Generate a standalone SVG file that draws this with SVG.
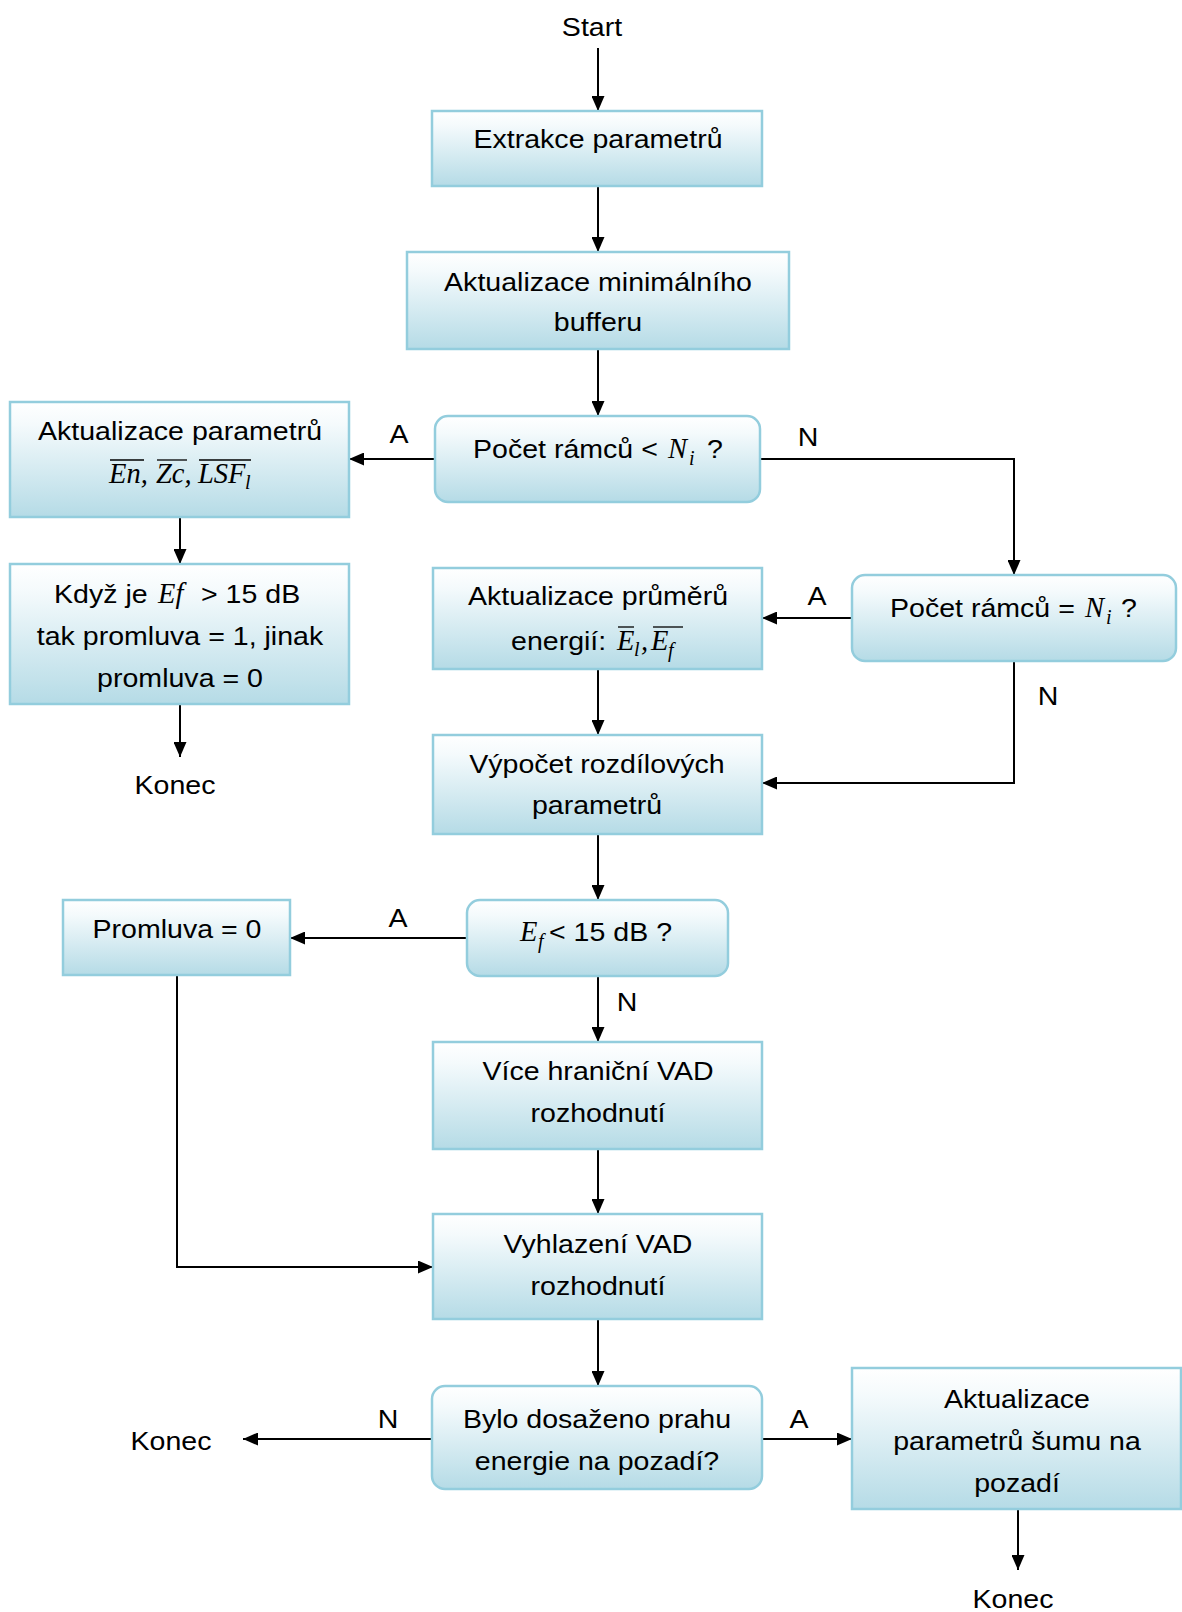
<svg xmlns="http://www.w3.org/2000/svg" width="1182" height="1612" viewBox="0 0 1182 1612">
<style>
.box{fill:url(#g);stroke:#93cddd;stroke-width:2.5}
.t{font-family:"Liberation Sans",Arial,sans-serif;font-size:25.5px;fill:#000;text-anchor:middle}
.s{font-family:"Liberation Sans",Arial,sans-serif;font-size:25.5px;fill:#000;text-anchor:start}
.m{font-family:"Liberation Serif","Times New Roman",serif;font-style:italic;font-size:28.5px;fill:#000}
.sub{font-family:"Liberation Serif","Times New Roman",serif;font-style:italic;font-size:20px;fill:#000}
.ol{stroke:#000;stroke-width:1.3}
.c{fill:none;stroke:#000;stroke-width:2}
</style>
<defs>
<linearGradient id="g" x1="0" y1="0" x2="0" y2="1">
<stop offset="0" stop-color="#ffffff"/>
<stop offset="0.2" stop-color="#f4fafc"/>
<stop offset="1" stop-color="#b5dbe6"/>
</linearGradient>
<marker id="a" markerUnits="userSpaceOnUse" markerWidth="15" markerHeight="13" refX="15" refY="6.5" orient="auto">
<path d="M0,0 L15,6.5 L0,13 z" fill="#000"/>
</marker>
</defs>
<rect width="1182" height="1612" fill="#fff"/>

<g id="connectors">
<path class="c" d="M598,48 V111" marker-end="url(#a)"/>
<path class="c" d="M598,186 V252" marker-end="url(#a)"/>
<path class="c" d="M598,349 V416" marker-end="url(#a)"/>
<path class="c" d="M435,459 H349" marker-end="url(#a)"/>
<path class="c" d="M760,459 H1014 V575" marker-end="url(#a)"/>
<path class="c" d="M852,618 H762" marker-end="url(#a)"/>
<path class="c" d="M1014,661 V783 H762" marker-end="url(#a)"/>
<path class="c" d="M598,669 V735" marker-end="url(#a)"/>
<path class="c" d="M598,834 V900" marker-end="url(#a)"/>
<path class="c" d="M467,938 H290" marker-end="url(#a)"/>
<path class="c" d="M598,976 V1042" marker-end="url(#a)"/>
<path class="c" d="M598,1149 V1214" marker-end="url(#a)"/>
<path class="c" d="M177,975 V1267 H433" marker-end="url(#a)"/>
<path class="c" d="M598,1319 V1386" marker-end="url(#a)"/>
<path class="c" d="M432,1439 H243" marker-end="url(#a)"/>
<path class="c" d="M762,1439 H852" marker-end="url(#a)"/>
<path class="c" d="M1018,1509 V1570" marker-end="url(#a)"/>
<path class="c" d="M180,517 V564" marker-end="url(#a)"/>
<path class="c" d="M180,704 V757" marker-end="url(#a)"/>
<text class="t" transform="translate(399 443) scale(1.12 1)">A</text>
<text class="t" transform="translate(808 446) scale(1.12 1)">N</text>
<text class="t" transform="translate(817 605) scale(1.12 1)">A</text>
<text class="t" transform="translate(1048 705) scale(1.12 1)">N</text>
<text class="t" transform="translate(398 927) scale(1.12 1)">A</text>
<text class="t" transform="translate(627 1011) scale(1.12 1)">N</text>
<text class="t" transform="translate(388 1428) scale(1.12 1)">N</text>
<text class="t" transform="translate(799 1428) scale(1.12 1)">A</text>
</g>

<g id="start"><text class="t" transform="translate(592 36) scale(1.12 1)">Start</text></g>

<g id="extrakce">
<rect class="box" x="432" y="111" width="330" height="75"/>
<text class="t" transform="translate(598 148) scale(1.12 1)">Extrakce parametrů</text>
</g>

<g id="buffer">
<rect class="box" x="407" y="252" width="382" height="97"/>
<text class="t" transform="translate(598 291) scale(1.12 1)">Aktualizace minimálního</text>
<text class="t" transform="translate(598 331) scale(1.12 1)">bufferu</text>
</g>

<g id="dec1">
<rect class="box" x="435" y="416" width="325" height="86" rx="13"/>
<text class="s" transform="translate(473 458) scale(1.12 1)">Počet rámců &lt;</text>
<text class="m" x="668" y="458">N</text>
<text class="sub" x="689" y="465">i</text>
<text class="s" transform="translate(707 458) scale(1.12 1)">?</text>
</g>

<g id="left1">
<rect class="box" x="10" y="402" width="339" height="115"/>
<text class="t" transform="translate(180 440) scale(1.12 1)">Aktualizace parametrů</text>
<text class="m" x="109" y="483">En,</text>
<text class="m" x="156" y="483">Zc,</text>
<text class="m" x="198" y="483">LSF</text>
<text class="sub" x="245" y="489">l</text>
<line class="ol" x1="110" y1="460" x2="144" y2="460"/>
<line class="ol" x1="157" y1="460" x2="187" y2="460"/>
<line class="ol" x1="199" y1="460" x2="251" y2="460"/>
</g>

<g id="left2">
<rect class="box" x="10" y="564" width="339" height="140"/>
<text class="s" transform="translate(54 603) scale(1.12 1)">Když je</text>
<text class="m" x="158" y="603">Ef</text>
<text class="s" transform="translate(201 603) scale(1.12 1)">&gt; 15 dB</text>
<text class="t" transform="translate(180 645) scale(1.12 1)">tak promluva = 1, jinak</text>
<text class="t" transform="translate(180 687) scale(1.12 1)">promluva = 0</text>
</g>

<g id="konec1"><text class="t" transform="translate(175 794) scale(1.12 1)">Konec</text></g>

<g id="dec2">
<rect class="box" x="852" y="575" width="324" height="86" rx="13"/>
<text class="s" transform="translate(890 617) scale(1.12 1)">Počet rámců =</text>
<text class="m" x="1085" y="617">N</text>
<text class="sub" x="1106" y="624">i</text>
<text class="s" transform="translate(1121 617) scale(1.12 1)">?</text>
</g>

<g id="prumery">
<rect class="box" x="433" y="568" width="329" height="101"/>
<text class="t" transform="translate(598 605) scale(1.12 1)">Aktualizace průměrů</text>
<text class="s" transform="translate(511 650) scale(1.12 1)">energií:</text>
<text class="m" x="617" y="650">E</text>
<text class="sub" x="634" y="656">l</text>
<text class="m" x="641" y="650">,</text>
<text class="m" x="651" y="650">E</text>
<text class="sub" x="668" y="657">f</text>
<line class="ol" x1="618" y1="627" x2="634" y2="627"/>
<line class="ol" x1="653" y1="627" x2="683" y2="627"/>
</g>

<g id="vypocet">
<rect class="box" x="433" y="735" width="329" height="99"/>
<text class="t" transform="translate(597 773) scale(1.12 1)">Výpočet rozdílových</text>
<text class="t" transform="translate(597 814) scale(1.12 1)">parametrů</text>
</g>

<g id="dec3">
<rect class="box" x="467" y="900" width="261" height="76" rx="13"/>
<text class="m" x="520" y="941">E</text>
<text class="sub" x="538" y="948">f</text>
<text class="s" transform="translate(549 941) scale(1.12 1)">&lt; 15 dB ?</text>
</g>

<g id="promluva">
<rect class="box" x="63" y="900" width="227" height="75"/>
<text class="t" transform="translate(177 938) scale(1.12 1)">Promluva = 0</text>
</g>

<g id="vice">
<rect class="box" x="433" y="1042" width="329" height="107"/>
<text class="t" transform="translate(598 1080) scale(1.12 1)">Více hraniční VAD</text>
<text class="t" transform="translate(598 1122) scale(1.12 1)">rozhodnutí</text>
</g>

<g id="vyhlazeni">
<rect class="box" x="433" y="1214" width="329" height="105"/>
<text class="t" transform="translate(598 1253) scale(1.12 1)">Vyhlazení VAD</text>
<text class="t" transform="translate(598 1295) scale(1.12 1)">rozhodnutí</text>
</g>

<g id="bylo">
<rect class="box" x="432" y="1386" width="330" height="103" rx="13"/>
<text class="t" transform="translate(597 1428) scale(1.12 1)">Bylo dosaženo prahu</text>
<text class="t" transform="translate(597 1470) scale(1.12 1)">energie na pozadí?</text>
</g>

<g id="konec2"><text class="t" transform="translate(171 1450) scale(1.12 1)">Konec</text></g>

<g id="sum">
<rect class="box" x="852" y="1368" width="329" height="141"/>
<text class="t" transform="translate(1017 1408) scale(1.12 1)">Aktualizace</text>
<text class="t" transform="translate(1017 1450) scale(1.12 1)">parametrů šumu na</text>
<text class="t" transform="translate(1017 1492) scale(1.12 1)">pozadí</text>
</g>

<g id="konec3"><text class="t" transform="translate(1013 1608) scale(1.12 1)">Konec</text></g>
</svg>
